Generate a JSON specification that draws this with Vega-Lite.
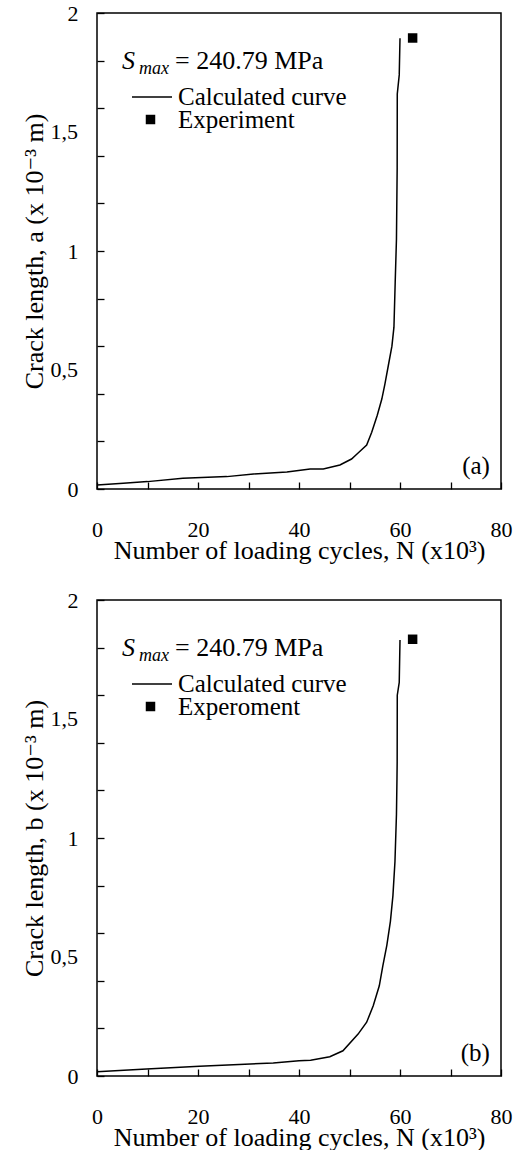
{
  "$schema": "https://vega.github.io/schema/vega-lite/v6.json",
  "background": "white",
  "padding": {"left": 20, "top": 1, "right": 5, "bottom": 5},
  "autosize": {"type": "pad"},
  "config": {
    "font": "'Liberation Serif', 'Times New Roman', 'DejaVu Serif', serif",
    "view": {"stroke": "black", "strokeWidth": 1.5},
    "axis": {
      "labelFont": "'Liberation Serif', 'Times New Roman', 'DejaVu Serif', serif", "labelFontSize": 22, "labelColor": "black",
      "titleFont": "'Liberation Serif', 'Times New Roman', 'DejaVu Serif', serif", "titleFontSize": 26, "titleFontWeight": "normal", "titleColor": "black",
      "tickColor": "black", "tickWidth": 1.3, "tickSize": 7, "grid": false, "domain": false,
      "labelOverlap": false, "labelFlush": false, "labelBound": false
    },
    "legend": {
      "orient": "none", "title": null, "padding": 0,
      "labelFont": "'Liberation Serif', 'Times New Roman', 'DejaVu Serif', serif", "labelFontSize": 25, "labelColor": "black", "labelLimit": 0,
      "rowPadding": 0, "symbolOpacity": 1
    },
    "text": {"font": "'Liberation Serif', 'Times New Roman', 'DejaVu Serif', serif", "color": "black"}
  },
  "datasets": {
    "curveA": [
      {"N": 0, "a": 0.017}, {"N": 5.2, "a": 0.024}, {"N": 10, "a": 0.031}, {"N": 17, "a": 0.045},
      {"N": 25.7, "a": 0.052}, {"N": 31, "a": 0.063}, {"N": 37.6, "a": 0.071}, {"N": 42.2, "a": 0.084},
      {"N": 44.8, "a": 0.084}, {"N": 48.1, "a": 0.101}, {"N": 50.4, "a": 0.126}, {"N": 51.7, "a": 0.151},
      {"N": 53.4, "a": 0.185}, {"N": 54.4, "a": 0.238}, {"N": 55.5, "a": 0.31}, {"N": 56.4, "a": 0.378},
      {"N": 57.0, "a": 0.44}, {"N": 57.7, "a": 0.52}, {"N": 58.4, "a": 0.6}, {"N": 58.8, "a": 0.68},
      {"N": 59.05, "a": 0.87}, {"N": 59.3, "a": 1.05}, {"N": 59.44, "a": 1.35}, {"N": 59.46, "a": 1.66},
      {"N": 59.85, "a": 1.74}, {"N": 60.0, "a": 1.894}
    ],
    "expA": [{"N": 62.5, "a": 1.895}],
    "curveB": [
      {"N": 0, "b": 0.018}, {"N": 9.8, "b": 0.029}, {"N": 20.3, "b": 0.041}, {"N": 34.9, "b": 0.055},
      {"N": 40, "b": 0.064}, {"N": 42.3, "b": 0.066}, {"N": 46.1, "b": 0.081}, {"N": 48.7, "b": 0.106},
      {"N": 51.7, "b": 0.176}, {"N": 53.4, "b": 0.226}, {"N": 54.7, "b": 0.295}, {"N": 55.9, "b": 0.379},
      {"N": 56.6, "b": 0.463}, {"N": 57.4, "b": 0.55}, {"N": 58.1, "b": 0.65}, {"N": 58.6, "b": 0.758},
      {"N": 59.0, "b": 0.9}, {"N": 59.3, "b": 1.1}, {"N": 59.4, "b": 1.248}, {"N": 59.44, "b": 1.32},
      {"N": 59.46, "b": 1.6}, {"N": 59.85, "b": 1.654}, {"N": 60.0, "b": 1.832}
    ],
    "expB": [{"N": 62.5, "b": 1.835}],
    "halfLabels": [{"v": 0.5, "t": "0,5"}, {"v": 1.5, "t": "1,5"}]
  },
  "spacing": 111,
  "bounds": "flush",
  "resolve": {
    "scale": {"color": "independent", "shape": "independent", "x": "independent", "y": "independent"},
    "legend": {"color": "independent", "shape": "independent"}
  },
  "vconcat": [
    {
      "width": 404, "height": 476,
      "layer": [
        {
          "data": {"name": "curveA"},
          "mark": {"type": "line", "strokeWidth": 1.5},
          "encoding": {
            "x": {"field": "N", "type": "quantitative", "scale": {"domain": [0, 80], "nice": false},
              "axis": {"title": "Number of loading cycles, N (x10³)", "values": [0,5,10,15,20,25,30,35,40,45,50,55,60,65,70,75,80], "tickCount": 16, "labelOverlap": false, "offset": -7,
                "labelExpr": "datum.value % 20 == 0 ? datum.label : ''", "labelPadding": 30, "titlePadding": -3}},
            "y": {"field": "a", "type": "quantitative", "scale": {"domain": [0, 2], "nice": false},
              "axis": {"title": "Crack length, a (x 10⁻³ m)", "values": [0,0.1,0.2,0.3,0.4,0.5,0.6,0.7,0.8,0.9,1,1.1,1.2,1.3,1.4,1.5,1.6,1.7,1.8,1.9,2], "tickCount": 20, "labelOverlap": false, "offset": -7,
                "labelExpr": "datum.value == 0 ? '0' : datum.value == 1 ? '1' : datum.value == 2 ? '2' : ''",
                "labelPadding": 19, "titlePadding": 20}},
            "color": {"datum": "Calculated curve", "type": "nominal", "scale": {"domain": ["Calculated curve"], "range": ["black"]},
              "legend": {"legendX": 34, "legendY": 63, "symbolSize": 1600, "symbolStrokeWidth": 1.5, "labelOffset": 5}}
          }
        },
        {
          "data": {"name": "expA"},
          "mark": {"type": "point", "filled": true, "color": "black", "opacity": 1, "size": 90},
          "encoding": {
            "x": {"field": "N", "type": "quantitative"},
            "y": {"field": "a", "type": "quantitative"},
            "shape": {"datum": "Experiment", "type": "nominal", "scale": {"domain": ["Experiment"], "range": ["square"]},
              "legend": {"legendX": 41, "legendY": 94, "symbolSize": 90, "symbolFillColor": "black", "labelOffset": 15}}
          }
        },
        {
          "data": {"name": "halfLabels"},
          "mark": {"type": "text", "fontSize": 22, "align": "right", "baseline": "middle", "dx": -19},
          "encoding": {"x": {"datum": 0}, "y": {"field": "v", "type": "quantitative"}, "text": {"field": "t"}}
        },
        {
          "data": {"values": [{}]},
          "mark": {"type": "text", "text": "S", "fontSize": 26, "fontStyle": "italic", "align": "left", "baseline": "alphabetic"},
          "encoding": {"x": {"datum": 4.95}, "y": {"datum": 1.765}}
        },
        {
          "data": {"values": [{}]},
          "mark": {"type": "text", "text": "max", "fontSize": 18, "fontStyle": "italic", "align": "left", "baseline": "alphabetic", "dx": 17, "dy": 5},
          "encoding": {"x": {"datum": 4.95}, "y": {"datum": 1.765}}
        },
        {
          "data": {"values": [{}]},
          "mark": {"type": "text", "text": "= 240.79 MPa", "fontSize": 26, "align": "left", "baseline": "alphabetic", "dx": 53},
          "encoding": {"x": {"datum": 4.95}, "y": {"datum": 1.765}}
        },
        {
          "data": {"values": [{}]},
          "mark": {"type": "text", "text": "(a)", "fontSize": 25, "align": "right", "baseline": "middle"},
          "encoding": {"x": {"datum": 77.8}, "y": {"datum": 0.097}}
        }
      ]
    },
    {
      "width": 404, "height": 476,
      "layer": [
        {
          "data": {"name": "curveB"},
          "mark": {"type": "line", "strokeWidth": 1.5},
          "encoding": {
            "x": {"field": "N", "type": "quantitative", "scale": {"domain": [0, 80], "nice": false},
              "axis": {"title": "Number of loading cycles, N (x10³)", "values": [0,5,10,15,20,25,30,35,40,45,50,55,60,65,70,75,80], "tickCount": 16, "labelOverlap": false, "offset": -7,
                "labelExpr": "datum.value % 20 == 0 ? datum.label : ''", "labelPadding": 30, "titlePadding": -3}},
            "y": {"field": "b", "type": "quantitative", "scale": {"domain": [0, 2], "nice": false},
              "axis": {"title": "Crack length, b (x 10⁻³ m)", "values": [0,0.1,0.2,0.3,0.4,0.5,0.6,0.7,0.8,0.9,1,1.1,1.2,1.3,1.4,1.5,1.6,1.7,1.8,1.9,2], "tickCount": 20, "labelOverlap": false, "offset": -7,
                "labelExpr": "datum.value == 0 ? '0' : datum.value == 1 ? '1' : datum.value == 2 ? '2' : ''",
                "labelPadding": 19, "titlePadding": 20}},
            "color": {"datum": "Calculated curve", "type": "nominal", "scale": {"domain": ["Calculated curve"], "range": ["black"]},
              "legend": {"legendX": 34, "legendY": 63, "symbolSize": 1600, "symbolStrokeWidth": 1.5, "labelOffset": 5}}
          }
        },
        {
          "data": {"name": "expB"},
          "mark": {"type": "point", "filled": true, "color": "black", "opacity": 1, "size": 90},
          "encoding": {
            "x": {"field": "N", "type": "quantitative"},
            "y": {"field": "b", "type": "quantitative"},
            "shape": {"datum": "Experoment", "type": "nominal", "scale": {"domain": ["Experoment"], "range": ["square"]},
              "legend": {"legendX": 41, "legendY": 94, "symbolSize": 90, "symbolFillColor": "black", "labelOffset": 15}}
          }
        },
        {
          "data": {"name": "halfLabels"},
          "mark": {"type": "text", "fontSize": 22, "align": "right", "baseline": "middle", "dx": -19},
          "encoding": {"x": {"datum": 0}, "y": {"field": "v", "type": "quantitative"}, "text": {"field": "t"}}
        },
        {
          "data": {"values": [{}]},
          "mark": {"type": "text", "text": "S", "fontSize": 26, "fontStyle": "italic", "align": "left", "baseline": "alphabetic"},
          "encoding": {"x": {"datum": 4.95}, "y": {"datum": 1.765}}
        },
        {
          "data": {"values": [{}]},
          "mark": {"type": "text", "text": "max", "fontSize": 18, "fontStyle": "italic", "align": "left", "baseline": "alphabetic", "dx": 17, "dy": 5},
          "encoding": {"x": {"datum": 4.95}, "y": {"datum": 1.765}}
        },
        {
          "data": {"values": [{}]},
          "mark": {"type": "text", "text": "= 240.79 MPa", "fontSize": 26, "align": "left", "baseline": "alphabetic", "dx": 53},
          "encoding": {"x": {"datum": 4.95}, "y": {"datum": 1.765}}
        },
        {
          "data": {"values": [{}]},
          "mark": {"type": "text", "text": "(b)", "fontSize": 25, "align": "right", "baseline": "middle"},
          "encoding": {"x": {"datum": 77.8}, "y": {"datum": 0.095}}
        }
      ]
    }
  ]
}
